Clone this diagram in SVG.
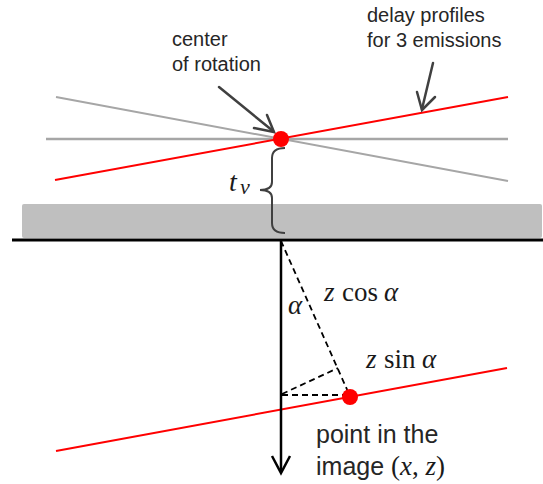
<svg xmlns="http://www.w3.org/2000/svg" width="543" height="484" viewBox="0 0 543 484">
<style>
.sans{font-family:"Liberation Sans",Arial,sans-serif;fill:#262626;}
.math{font-family:"Liberation Serif","DejaVu Serif",serif;fill:#1a1a1a;}
.it{font-style:italic;}
.gray{stroke:#a6a6a6;fill:none;}
.red{stroke:#ff0000;stroke-width:2;fill:none;}
.dash{stroke:#000;stroke-width:1.8;stroke-dasharray:6 4;fill:none;}
.ann{stroke:#404040;stroke-width:2.5;fill:none;stroke-linecap:round;stroke-linejoin:miter;}
</style>
<rect width="543" height="484" fill="#fff"/>
<g id="transducer">
<rect x="22" y="204" width="520" height="34" rx="2" fill="#bfbfbf"/>
<line x1="12" y1="240" x2="543" y2="240" stroke="#000" stroke-width="3"/>
</g>
<g id="profiles">
<line class="gray" x1="46" y1="139" x2="508" y2="139" stroke-width="2.5"/>
<line class="gray" x1="56" y1="97" x2="508" y2="181" stroke-width="2"/>
<line class="red" x1="55" y1="180" x2="508" y2="97"/>
</g>
<g id="image-line">
<line class="red" x1="56" y1="451" x2="507" y2="368"/>
</g>
<g id="geometry">
<line class="dash" x1="281" y1="241" x2="349" y2="394"/>
<line class="dash" x1="282" y1="394" x2="338" y2="368"/>
<line class="dash" x1="282" y1="395" x2="350" y2="395"/>
</g>
<g id="connectors">
<line x1="281" y1="241" x2="281" y2="472" stroke="#000" stroke-width="2.5"/>
<polyline points="272,456 281,473 290,456" stroke="#000" stroke-width="2.5" fill="none"/>
<line class="ann" x1="219" y1="87" x2="273" y2="131"/>
<polyline class="ann" points="254,128 274,132 267,115"/>
<line class="ann" x1="433" y1="63" x2="422" y2="109"/>
<polyline class="ann" points="417,92 422,110 435,97"/>
</g>
<g id="center">
<circle cx="281" cy="139" r="8" fill="#ff0000"/>
<text class="sans" font-size="20" x="172" y="46">center</text>
<text class="sans" font-size="20" x="172" y="71">of rotation</text>
</g>
<g id="delay-label">
<text class="sans" font-size="20" x="367" y="22">delay profiles</text>
<text class="sans" font-size="20" x="367" y="47">for 3 emissions</text>
</g>
<g id="tv">
<path d="M285,148 Q272,148 272,158 L272,182 Q272,190 260,190 Q272,190 272,198 L272,223 Q272,233 285,233" stroke="#404040" stroke-width="2" fill="none"/>
<text class="math it" font-size="28" x="229" y="191">t</text>
<text class="math it" font-size="22" x="240" y="194">v</text>
</g>
<g id="alpha">
<text class="math it" font-size="27" x="288" y="314">α</text>
</g>
<g id="zcos">
<text class="math" font-size="27" y="301"><tspan class="it" x="324">z</tspan><tspan x="342">cos</tspan><tspan class="it" x="384">α</tspan></text>
</g>
<g id="zsin">
<text class="math" font-size="27" y="368"><tspan class="it" x="366">z</tspan><tspan x="384">sin</tspan><tspan class="it" x="422">α</tspan></text>
</g>
<g id="point">
<circle cx="350" cy="397" r="8" fill="#ff0000"/>
<text class="sans" font-size="25" x="316" y="443">point in the</text>
<text class="sans" font-size="25" x="316" y="475">image <tspan class="math" font-size="27">(</tspan><tspan class="math it" font-size="27">x</tspan><tspan class="math" font-size="27">, </tspan><tspan class="math it" font-size="27">z</tspan><tspan class="math" font-size="27">)</tspan></text>
</g>
</svg>
